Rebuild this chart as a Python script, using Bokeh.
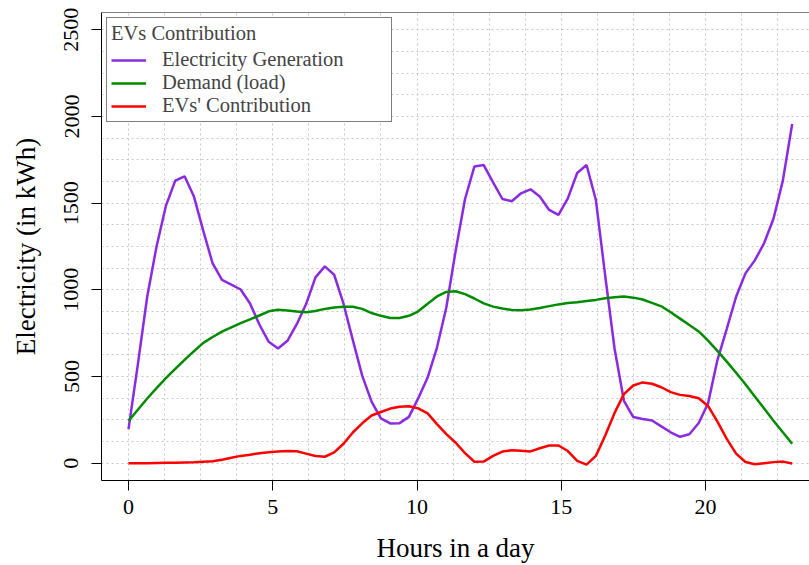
import numpy as np
from bokeh.plotting import figure
from bokeh.models import Range1d, FixedTicker, Span, Legend, LegendItem
from bokeh.embed import file_html
from bokeh.resources import INLINE

# 72 samples across the day (20-minute steps, indexed 0..23 h)
n_steps = 72
hours = np.linspace(0, 23, n_steps)

generation = [196, 570, 960, 1250, 1484, 1630, 1655, 1538, 1340, 1152,
              1057, 1030, 1002, 921, 800, 700, 662, 706, 802, 918,
              1072, 1135, 1087, 920, 710, 505, 355, 258, 229, 231,
              267, 375, 494, 667, 898, 1226, 1524, 1711, 1720, 1620,
              1524, 1511, 1557, 1580, 1538, 1461, 1432, 1528, 1674, 1720,
              1518, 1080, 660, 360, 266, 255, 246, 212, 178, 152,
              167, 232, 345, 595, 775, 960, 1095, 1170, 1270, 1410,
              1630, 1957]

demand = [244, 308, 373, 433, 490, 544, 596, 646, 694, 728,
          759, 784, 808, 830, 852, 876, 885, 881, 875, 871,
          878, 890, 898, 903, 902, 890, 866, 850, 838, 838,
          850, 876, 920, 962, 988, 992, 975, 950, 922, 903,
          892, 884, 882, 886, 895, 906, 916, 924, 929, 936,
          942, 951, 957, 961, 955, 944, 925, 905, 871, 834,
          797, 760, 707, 648, 586, 522, 455, 385, 315, 245,
          178, 112]

ev_contribution = [0, 0, 0, 1, 2, 3, 4, 5, 8, 11,
                   20, 31, 42, 49, 57, 63, 67, 70, 69, 55,
                   41, 37, 62, 112, 177, 230, 275, 295, 315, 326,
                   328, 316, 287, 225, 168, 118, 58, 8, 9, 42,
                   67, 74, 72, 68, 86, 102, 102, 70, 13, -8,
                   42, 160, 290, 398, 448, 466, 458, 438, 410, 394,
                   388, 375, 330, 240, 140, 55, 7, -6, 0, 6,
                   9, -2]

x_ticks = [0, 5, 10, 15, 20]
y_ticks = [0, 500, 1000, 1500, 2000, 2500]
x_grid = [i * 1.25 for i in range(19)]
y_grid = [i * 125 for i in range(21)]

FONT = "Liberation Serif"

p = figure(width=809, height=565, output_backend="svg", toolbar_location=None,
           x_range=Range1d(-0.936, 23.6), y_range=Range1d(-100, 2600),
           min_border_left=101, min_border_right=0, min_border_top=12,
           min_border_bottom=85, outline_line_color=None,
           background_fill_color="white", border_fill_color="white")

# dotted reference grid
for g in (p.xgrid[0], p.ygrid[0]):
    g.grid_line_color = "#c8c8c8"
    g.grid_line_dash = "2 3"
    g.grid_line_width = 1
p.xgrid[0].ticker = FixedTicker(ticks=x_grid)
p.ygrid[0].ticker = FixedTicker(ticks=y_grid)

# top edge of the plot box
p.add_layout(Span(location=2600, dimension="width", line_color="black", line_width=1))

r_gen = p.line(hours, generation, line_color="#8A2BE2", line_width=2.5)
r_dem = p.line(hours, demand, line_color="#008B00", line_width=2.5)
r_ev = p.line(hours, ev_contribution, line_color="#FF0000", line_width=2.5)

xa = p.xaxis[0]
ya = p.yaxis[0]
xa.ticker = FixedTicker(ticks=x_ticks)
ya.ticker = FixedTicker(ticks=y_ticks)
for ax in (xa, ya):
    ax.axis_line_color = "black"
    ax.axis_line_width = 1
    ax.major_tick_line_color = "black"
    ax.major_tick_out = 10
    ax.major_tick_in = 0
    ax.minor_tick_out = 0
    ax.minor_tick_in = 0
    ax.major_label_text_font = FONT
    ax.major_label_text_font_size = "22px"
    ax.major_label_text_color = "black"
    ax.axis_label_text_font = FONT
    ax.axis_label_text_font_size = "27px"
    ax.axis_label_text_font_style = "normal"
    ax.axis_label_text_color = "black"

xa.axis_label = "Hours in a day"
ya.axis_label = "Electricity (in kWh)"
ya.major_label_orientation = "parallel"
xa.major_label_standoff = 9
ya.major_label_standoff = 13
xa.axis_label_standoff = 16
ya.axis_label_standoff = 21

legend = Legend(
    items=[LegendItem(label="Electricity Generation", renderers=[r_gen]),
           LegendItem(label="Demand (load)", renderers=[r_dem]),
           LegendItem(label="EVs' Contribution", renderers=[r_ev])],
    location="top_left", title="EVs Contribution",
    margin=5, padding=4, spacing=0, glyph_width=35, glyph_height=20,
    label_height=20, label_width=225, label_standoff=16, title_standoff=3,
    label_text_font=FONT, label_text_font_size="20.5px",
    title_text_font=FONT, title_text_font_size="20.5px",
    title_text_font_style="normal",
    border_line_color="black", border_line_width=1.5,
    background_fill_color="white", background_fill_alpha=1.0,
)
p.add_layout(legend)

open("out.html", "w").write(file_html(p, INLINE))
